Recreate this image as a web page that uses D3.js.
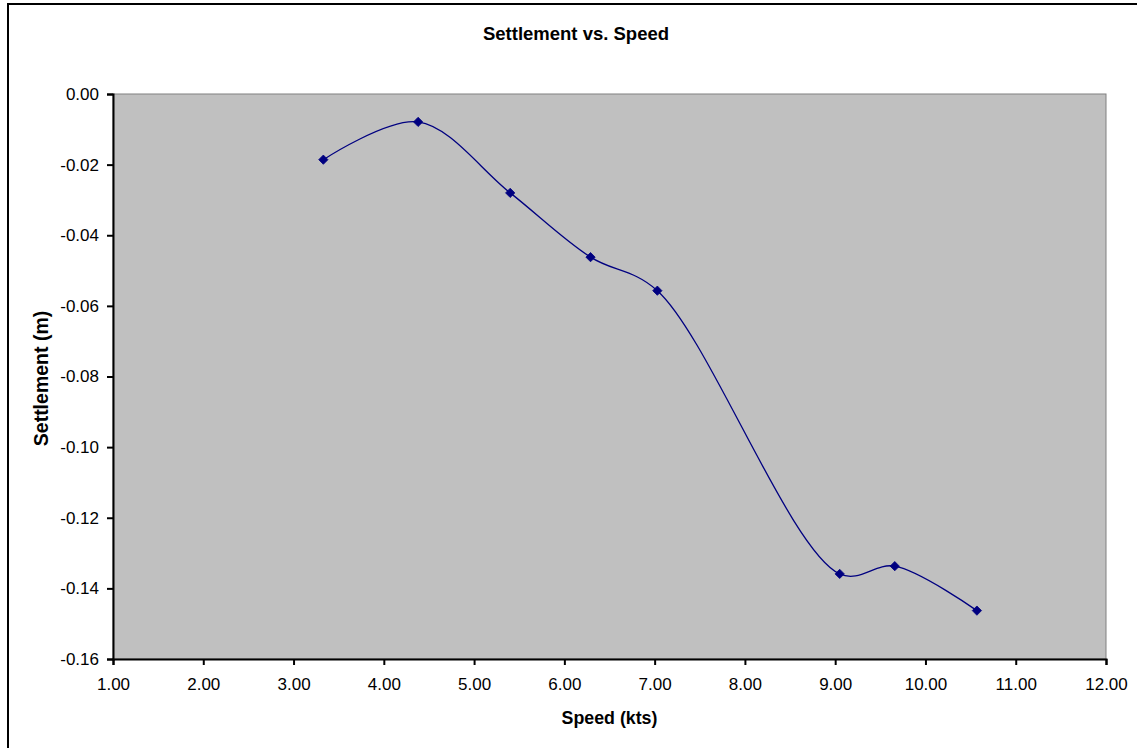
<!DOCTYPE html>
<html>
<head>
<meta charset="utf-8">
<script src="https://cdn.jsdelivr.net/npm/d3@7"></script>
<style>
  body { margin: 0; background: #fff; }
  svg { display: block; font-family: "Liberation Sans", Arial, sans-serif; }
</style>
</head>
<body>
<svg id="chart"></svg>
<script>
// data
const speed = [3.33, 4.38, 5.40, 6.29, 7.03, 9.05, 9.66, 10.57];
const settlement = [-0.0186, -0.0079, -0.0280, -0.0462, -0.0557, -0.1359, -0.1337, -0.1463];
const xTicks = [1, 2, 3, 4, 5, 6, 7, 8, 9, 10, 11, 12];
const yTicks = [0, -0.02, -0.04, -0.06, -0.08, -0.10, -0.12, -0.14, -0.16];

const width = 1137, height = 748;
const margin = { top: 94, right: 31, bottom: 89, left: 113 };
const innerWidth = width - margin.left - margin.right;
const innerHeight = height - margin.top - margin.bottom;

const svg = d3.select("#chart").attr("width", width).attr("height", height);

// outer chart border
svg.append("rect")
  .attr("x", 8).attr("y", 4)
  .attr("width", width + 10).attr("height", height + 10)
  .attr("fill", "none").attr("stroke", "#000").attr("stroke-width", 2);

const x = d3.scaleLinear().domain([1, 12]).range([0, innerWidth]);
const y = d3.scaleLinear().domain([-0.16, 0]).range([innerHeight, 0]);

const fmt = d => d3.format(".2f")(d).replace("\u2212", "-");

const g = svg.append("g").attr("transform", `translate(${margin.left},${margin.top})`);

// plot area
g.append("rect")
  .attr("width", innerWidth).attr("height", innerHeight)
  .attr("fill", "#c0c0c0").attr("stroke", "#808080").attr("stroke-width", 1);

// axes
const xAxis = g.append("g")
  .attr("transform", `translate(0,${innerHeight})`)
  .call(d3.axisBottom(x).tickValues(xTicks).tickFormat(fmt).tickSize(6).tickPadding(13));

const yAxis = g.append("g")
  .call(d3.axisLeft(y).tickValues(yTicks).tickFormat(fmt).tickSize(6).tickPadding(8));

[xAxis, yAxis].forEach(a => {
  a.select(".domain").attr("stroke", "#000").attr("stroke-width", 2);
  a.selectAll(".tick line").attr("stroke", "#000").attr("stroke-width", 2);
  a.selectAll(".tick text")
    .attr("fill", "#000")
    .style("font-family", "'Liberation Sans', Arial, sans-serif")
    .style("font-size", "17px");
});

// smoothed line
const pts = speed.map((s, i) => [s, settlement[i]]);
const line = d3.line()
  .x(d => x(d[0]))
  .y(d => y(d[1]))
  .curve(d3.curveCatmullRom.alpha(0.5));

g.append("path")
  .datum(pts)
  .attr("d", line)
  .attr("fill", "none")
  .attr("stroke", "#000080")
  .attr("stroke-width", 1.3);

// diamond markers
g.selectAll(".marker")
  .data(pts)
  .enter()
  .append("path")
  .attr("class", "marker")
  .attr("transform", d => `translate(${x(d[0])},${y(d[1])})`)
  .attr("d", d3.symbol().type(d3.symbolDiamond2).size(55))
  .attr("fill", "#000080")
  .attr("stroke", "#000080")
  .attr("stroke-width", 0.8);

// titles
svg.append("text")
  .attr("x", 576).attr("y", 40)
  .attr("text-anchor", "middle")
  .style("font-size", "18.5px").style("font-weight", "bold")
  .text("Settlement vs. Speed");

svg.append("text")
  .attr("x", margin.left + innerWidth / 2).attr("y", 724)
  .attr("text-anchor", "middle")
  .style("font-size", "17.8px").style("font-weight", "bold")
  .text("Speed (kts)");

svg.append("text")
  .attr("transform", `translate(48,${margin.top + innerHeight / 2 + 2}) rotate(-90)`)
  .attr("text-anchor", "middle")
  .style("font-size", "19.5px").style("font-weight", "bold")
  .text("Settlement (m)");
</script>
</body>
</html>
